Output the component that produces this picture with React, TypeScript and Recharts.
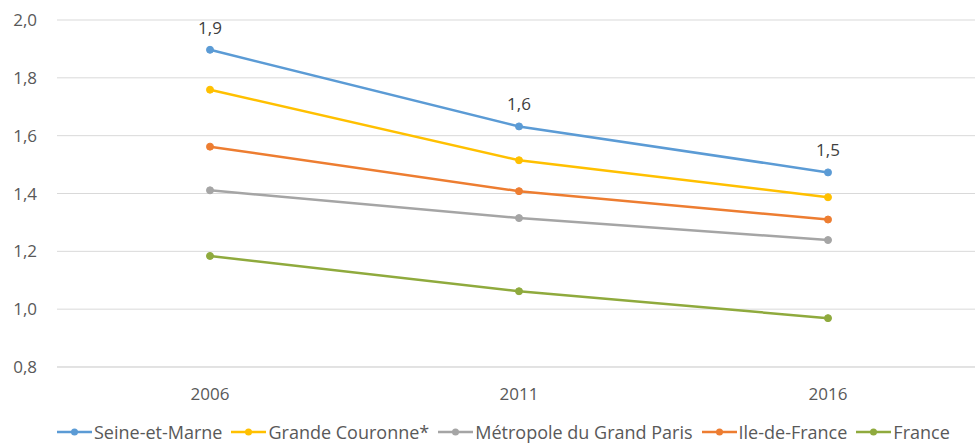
import React from "react";
import {
  LineChart,
  Line,
  XAxis,
  YAxis,
  CartesianGrid,
  Legend,
  LabelList,
} from "recharts";

const years = ["2006", "2011", "2016"];
const seineEtMarne = [1.897, 1.632, 1.473];
const grandeCouronne = [1.759, 1.515, 1.387];
const metropole = [1.411, 1.315, 1.239];
const ileDeFrance = [1.562, 1.408, 1.31];
const france = [1.184, 1.062, 0.969];
const yTicks = [0.8, 1.0, 1.2, 1.4, 1.6, 1.8, 2.0];

const series = [
  { key: "sem", name: "Seine-et-Marne", color: "#5B9BD5", values: seineEtMarne },
  { key: "gc", name: "Grande Couronne*", color: "#FFC000", values: grandeCouronne },
  { key: "mgp", name: "Métropole du Grand Paris", color: "#A5A5A5", values: metropole },
  { key: "idf", name: "Ile-de-France", color: "#ED7D31", values: ileDeFrance },
  { key: "fr", name: "France", color: "#8FAA3D", values: france },
];

const data = years.map((year, i) => {
  const row: Record<string, string | number> = { year };
  series.forEach((s) => {
    row[s.key] = s.values[i];
  });
  return row;
});

const fmt = (v: number) => v.toFixed(1).replace(".", ",");
const FONT = "'Open Sans', 'Noto Sans', sans-serif";

function ChartLegend() {
  return (
    <div
      style={{
        display: "flex",
        justifyContent: "flex-start",
        paddingLeft: 57,
        width: 975,
        boxSizing: "border-box",
        fontFamily: FONT,
        fontSize: 18,
        lineHeight: "20px",
        color: "#595959",
        whiteSpace: "nowrap",
      }}
    >
      {series.map((s) => (
        <div key={s.key} style={{ display: "flex", alignItems: "center", marginRight: 9 }}>
          <svg width={35} height={12} style={{ marginRight: 2 }}>
            <line x1={0} y1={6} x2={35} y2={6} stroke={s.color} strokeWidth={2.5} />
            <circle cx={17.5} cy={6} r={3.5} fill={s.color} />
          </svg>
          <span>{s.name}</span>
        </div>
      ))}
    </div>
  );
}

export default function App() {
  return (
    <div
      style={{
        position: "absolute",
        left: 0,
        top: 0,
        width: 975,
        height: 445,
        overflow: "hidden",
        background: "#fff",
      }}
    >
      <LineChart
        width={984}
        height={445}
        data={data}
        margin={{ top: 20, right: 0, left: 0, bottom: 0 }}
        style={{ fontFamily: FONT }}
      >
        <CartesianGrid vertical={false} stroke="#D9D9D9" strokeWidth={1} />
        <XAxis
          dataKey="year"
          padding={{ left: 153, right: 156 }}
          axisLine={{ stroke: "#D9D9D9" }}
          tickLine={false}
          tickSize={0}
          tickMargin={21}
          height={78}
          tick={{ fill: "#595959", fontSize: 17 }}
        />
        <YAxis
          domain={[0.8, 2.0]}
          ticks={yTicks}
          axisLine={false}
          tickLine={false}
          tickSize={0}
          tickMargin={20}
          width={57}
          tickFormatter={fmt}
          tick={{ fill: "#595959", fontSize: 17 }}
        />
        <Legend
          verticalAlign="middle"
          align="center"
          wrapperStyle={{ top: 422, left: 0 }}
          content={() => <ChartLegend />}
        />
        {series.map((s) => (
          <Line
            key={s.key}
            dataKey={s.key}
            name={s.name}
            type="linear"
            stroke={s.color}
            strokeWidth={2.5}
            dot={{ r: 3.5, fill: s.color, stroke: s.color, strokeWidth: 1 }}
            activeDot={false}
            isAnimationActive={false}
          >
            {s.key === "sem" && (
              <LabelList
                dataKey={s.key}
                position="top"
                offset={16}
                formatter={(v: any) => fmt(Number(v))}
                style={{ fill: "#404040", fontSize: 17 }}
              />
            )}
          </Line>
        ))}
      </LineChart>
    </div>
  );
}
